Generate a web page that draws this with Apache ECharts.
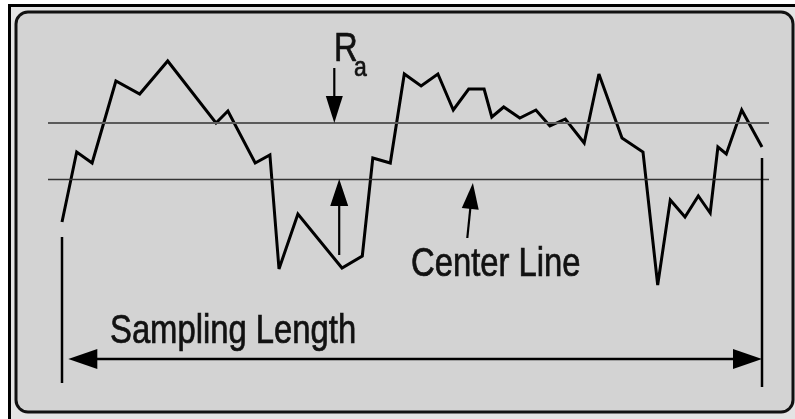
<!DOCTYPE html>
<html>
<head>
<meta charset="utf-8">
<script src="https://cdn.jsdelivr.net/npm/echarts@6/dist/echarts.min.js"></script>
<style>
  html, body { margin: 0; padding: 0; background: #ffffff; }
  #chart { width: 795px; height: 419px; }
</style>
</head>
<body>
<div id="chart"></div>
<script>
// ---- Data (position along sampling length 0..100, height relative to center line) ----
const profileX = [0, 2.1, 4.3, 7.7, 11.1, 15.1, 22.0, 23.7, 27.6, 29.7, 31.0, 33.7, 40.0, 42.9,
  44.4, 46.9, 48.9, 51.3, 53.7, 55.9, 58.1, 60.3, 61.4, 63.1, 65.4, 67.7, 69.7, 71.9, 74.6,
  76.7, 80.0, 83.0, 85.1, 86.9, 89.0, 90.9, 92.6, 93.7, 94.9, 97.1, 100];
const profileH = [-4.3, 2.7, 1.6, 9.8, 8.5, 11.8, 5.6, 6.8, 1.6, 2.4, -9.0, -3.5, -8.9, -7.7,
  2.1, 1.6, 10.5, 9.3, 10.5, 6.9, 9.0, 9.0, 6.2, 7.2, 6.1, 6.9, 5.3, 6.0, 3.6,
  10.5, 4.1, 2.7, -10.6, -2.1, -3.8, -1.7, -3.4, 3.2, 2.5, 6.9, 3.2];
const raLevel = 5.6;
const centerLevel = 0;
// sampling length boundaries: [x, top, bottom]
const boundX = [0, 100];
const boundTop = [-5.8, 2.1];
const boundBottom = [-20.4, -20.8];
// annotation arrows: [xFrom, yFrom, xTo, yTo]
const raArrowDown = [38.9, 11.1, 38.9, 5.6];
const raArrowUp = [39.6, -7.6, 39.6, 0];
const centerArrow = [57.9, -5.9, 58.7, -0.4];
const samplingArrow = [0.9, -18, 100, -18];
// labels
const labelRa = 'R';
const labelRaSub = 'a';
const labelCenter = 'Center Line';
const labelSampling = 'Sampling Length';

// ---- Build ----
const profileData = profileX.map((x, i) => [x, profileH[i]]);
const boundData = boundX.map((x, i) => [x, boundTop[i], boundBottom[i]]);

function arrowSeries(arr, both, headLen, headW, width) {
  return {
    type: 'custom',
    silent: true,
    z: 5,
    data: [arr],
    encode: { x: [0, 2], y: [1, 3] },
    renderItem: function (params, api) {
      const p1 = api.coord([api.value(0), api.value(1)]);
      const p2 = api.coord([api.value(2), api.value(3)]);
      const dx = p2[0] - p1[0], dy = p2[1] - p1[1];
      const len = Math.sqrt(dx * dx + dy * dy);
      const ux = dx / len, uy = dy / len;
      const nx = -uy, ny = ux;
      function head(tip, sx, sy) {
        const bx = tip[0] - sx * headLen, by = tip[1] - sy * headLen;
        return {
          type: 'polygon',
          shape: { points: [tip, [bx + nx * headW / 2, by + ny * headW / 2], [bx - nx * headW / 2, by - ny * headW / 2]] },
          style: { fill: '#000' }
        };
      }
      const a = both ? [p1[0] + ux * headLen * 0.5, p1[1] + uy * headLen * 0.5] : p1;
      const b = [p2[0] - ux * headLen * 0.5, p2[1] - uy * headLen * 0.5];
      const children = [{
        type: 'line',
        shape: { x1: a[0], y1: a[1], x2: b[0], y2: b[1] },
        style: { stroke: '#000', lineWidth: width }
      }, head(p2, ux, uy)];
      if (both) children.push(head(p1, -ux, -uy));
      return { type: 'group', children: children };
    }
  };
}

const chart = echarts.init(document.getElementById('chart'), null, { renderer: 'canvas' });
const textFont = 'Liberation Sans, Arial, sans-serif';
function label(text, x, y, size) {
  return { type: 'text', z: 10, silent: true, x: x, y: y, scaleX: 0.82,
    style: { text: text, font: size + 'px ' + textFont, fill: '#111', stroke: '#111',
      lineWidth: 0.7, verticalAlign: 'middle' } };
}
chart.setOption({
  animation: false,
  backgroundColor: '#ffffff',
  grid: { left: 48, top: 19, width: 721, height: 400, containLabel: false },
  xAxis: { type: 'value', min: -2, max: 101, show: false, splitLine: { show: false } },
  yAxis: { type: 'value', min: -24, max: 16, show: false, splitLine: { show: false } },
  graphic: [
    { type: 'rect', z: -20, silent: true,
      shape: { x: 9.5, y: 5.5, width: 800, height: 440 },
      style: { fill: '#e4e4e4', stroke: '#000', lineWidth: 3 } },
    { type: 'rect', z: -19, silent: true,
      shape: { x: 16, y: 12, width: 777, height: 400, r: 12 },
      style: { fill: '#d3d3d3', stroke: '#111', lineWidth: 3 } },
    label(labelRa, 334, 50, 40),
    label(labelRaSub, 354, 68, 28),
    label(labelCenter, 411, 265, 40),
    label(labelSampling, 110, 332, 40)
  ],
  series: [
    {
      type: 'line',
      data: profileData,
      symbol: 'none',
      silent: true,
      z: 4,
      lineStyle: { color: '#000', width: 3, join: 'miter', miterLimit: 3 },
      markLine: {
        silent: true,
        symbol: 'none',
        label: { show: false },
        data: [
          { yAxis: raLevel, lineStyle: { color: '#5a5a5a', width: 1.8, type: 'solid' } },
          { yAxis: centerLevel, lineStyle: { color: '#333', width: 1.4, type: 'solid' } }
        ]
      }
    },
    {
      type: 'custom',
      silent: true,
      z: 5,
      data: boundData,
      encode: { x: 0, y: [1, 2] },
      renderItem: function (params, api) {
        const p1 = api.coord([api.value(0), api.value(1)]);
        const p2 = api.coord([api.value(0), api.value(2)]);
        return { type: 'line', shape: { x1: p1[0], y1: p1[1], x2: p2[0], y2: p2[1] },
          style: { stroke: '#000', lineWidth: 2.5 } };
      }
    },
    arrowSeries(raArrowDown, false, 27, 17, 2.2),
    arrowSeries(raArrowUp, false, 27, 18, 2.2),
    arrowSeries(centerArrow, false, 26, 17, 2.2),
    arrowSeries(samplingArrow, true, 29, 20, 2.6)
  ]
});
</script>
</body>
</html>
